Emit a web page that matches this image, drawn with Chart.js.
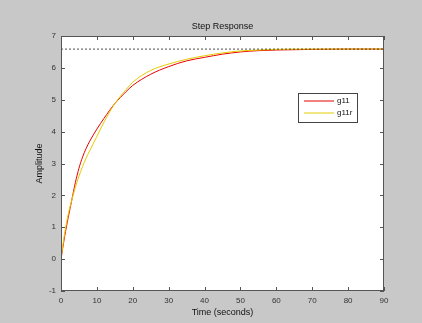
<!DOCTYPE html>
<html>
<head>
<meta charset="utf-8">
<script src="https://cdn.jsdelivr.net/npm/chart.js@4.4.0/dist/chart.umd.min.js"></script>
<style>
  html, body { margin: 0; padding: 0; background: #c8c8c8; }
  #chart { display: block; }
</style>
</head>
<body>
<canvas id="chart" width="422" height="323"></canvas>
<script>
// step response samples
const timeSec = [0, 1, 2, 3, 4, 5, 6, 7, 8, 10, 12, 15, 18, 20, 25, 30, 35, 40, 45, 50, 55, 60, 70, 80, 90];
const g11 = [0, 0.7, 1.3, 1.85, 2.4, 2.85, 3.2, 3.47, 3.7, 4.08, 4.42, 4.88, 5.24, 5.45, 5.8, 6.04, 6.22, 6.33, 6.43, 6.5, 6.54, 6.56, 6.58, 6.59, 6.59];
const g11r = [0, 0.8, 1.4, 1.85, 2.25, 2.6, 2.9, 3.17, 3.4, 3.85, 4.3, 4.88, 5.3, 5.55, 5.92, 6.12, 6.27, 6.38, 6.47, 6.53, 6.56, 6.58, 6.59, 6.59, 6.59];
const steadyState = 6.59;
const xTicks = [0, 10, 20, 30, 40, 50, 60, 70, 80, 90];
const yTicks = [-1, 0, 1, 2, 3, 4, 5, 6, 7];

const FONT = "Arial, 'Liberation Sans', sans-serif";
const RED = "rgb(235,0,0)";
const YELLOW = "rgb(228,204,0)";

const toPts = (ys) => timeSec.map((t, i) => ({ x: t, y: ys[i] }));

// box, inward ticks, titles and legend, matlab style
const matlabFrame = {
  id: "matlabFrame",
  beforeDatasetsDraw(chart) {
    const { ctx, chartArea: a } = chart;
    ctx.save();
    ctx.fillStyle = "#ffffff";
    ctx.fillRect(a.left, a.top, a.right - a.left, a.bottom - a.top);
    ctx.restore();
  },
  afterDatasetsDraw(chart) {
    const { ctx, chartArea: a, scales } = chart;
    ctx.save();
    ctx.strokeStyle = "#555";
    ctx.lineWidth = 1;
    ctx.strokeRect(a.left + 0.5, a.top + 0.5, a.right - a.left - 1, a.bottom - a.top - 1);
    ctx.beginPath();
    xTicks.forEach((v) => {
      const px = Math.round(scales.x.getPixelForValue(v)) + 0.5;
      ctx.moveTo(px, a.bottom); ctx.lineTo(px, a.bottom - 4);
      ctx.moveTo(px, a.top); ctx.lineTo(px, a.top + 4);
    });
    yTicks.forEach((v) => {
      const py = Math.round(scales.y.getPixelForValue(v)) + 0.5;
      ctx.moveTo(a.left, py); ctx.lineTo(a.left + 4, py);
      ctx.moveTo(a.right, py); ctx.lineTo(a.right - 4, py);
    });
    ctx.stroke();

    // titles
    const cx = (a.left + a.right) / 2;
    ctx.fillStyle = "#111";
    ctx.textAlign = "center";
    ctx.textBaseline = "middle";
    ctx.font = "9px " + FONT;
    ctx.fillText("Step Response", cx, 27);
    ctx.fillText("Time (seconds)", cx, 313);
    ctx.save();
    ctx.translate(40, (a.top + a.bottom) / 2);
    ctx.rotate(-Math.PI / 2);
    ctx.fillText("Amplitude", 0, 0);
    ctx.restore();

    // legend
    const lx = 298, ly = 93, lw = 59, lh = 29;
    ctx.fillStyle = "#fff";
    ctx.fillRect(lx, ly, lw, lh);
    ctx.strokeStyle = "#444";
    ctx.strokeRect(lx + 0.5, ly + 0.5, lw, lh);
    const items = [["g11", RED], ["g11r", YELLOW]];
    items.forEach(([name, col], i) => {
      const y = ly + 8 + i * 12;
      ctx.strokeStyle = col;
      ctx.lineWidth = 1;
      ctx.beginPath();
      ctx.moveTo(lx + 6, y); ctx.lineTo(lx + 36, y);
      ctx.stroke();
      ctx.fillStyle = "#111";
      ctx.textAlign = "left";
      ctx.font = "8px " + FONT;
      ctx.fillText(name, lx + 39, y);
    });
    ctx.restore();
  },
};

new Chart(document.getElementById("chart"), {
  type: "line",
  data: {
    datasets: [
      {
        label: "steady",
        data: [{ x: 0, y: steadyState }, { x: 90, y: steadyState }],
        borderColor: "#222",
        borderWidth: 0.8,
        borderDash: [2, 2],
        pointRadius: 0,
      },
      {
        label: "g11r",
        data: toPts(g11r),
        borderColor: YELLOW,
        borderWidth: 1,
        pointRadius: 0,
        cubicInterpolationMode: "monotone",
      },
      {
        label: "g11",
        data: toPts(g11),
        borderColor: RED,
        borderWidth: 1,
        pointRadius: 0,
        cubicInterpolationMode: "monotone",
      },
    ],
  },
  options: {
    responsive: false,
    animation: false,
    layout: { padding: { left: 0, top: 36, right: 38, bottom: 0 } },
    plugins: { legend: { display: false }, tooltip: { enabled: false } },
    scales: {
      x: {
        type: "linear",
        min: 0,
        max: 90,
        afterBuildTicks: (s) => { s.ticks = xTicks.map((v) => ({ value: v })); },
        afterFit: (s) => { s.height = 32; },
        grid: { display: false, drawTicks: false },
        border: { display: false },
        ticks: { color: "#333", font: { size: 8, family: FONT }, padding: 5, maxRotation: 0 },
      },
      y: {
        min: -1,
        max: 7,
        afterBuildTicks: (s) => { s.ticks = yTicks.map((v) => ({ value: v })); },
        afterFit: (s) => { s.width = 61; },
        grid: { display: false, drawTicks: false },
        border: { display: false },
        ticks: { color: "#333", font: { size: 8, family: FONT }, padding: 5 },
      },
    },
  },
  plugins: [matlabFrame],
});
</script>
</body>
</html>
